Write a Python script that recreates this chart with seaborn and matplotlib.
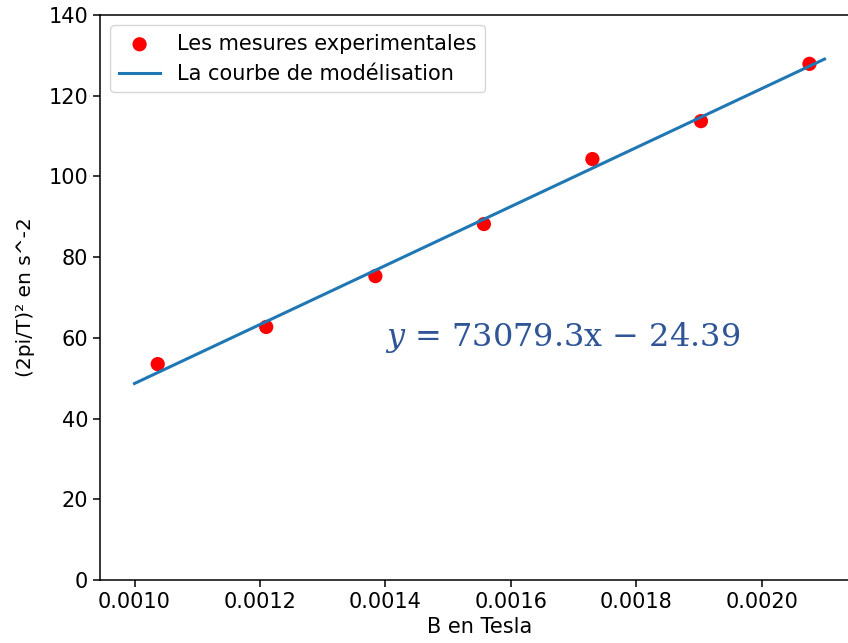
import matplotlib
matplotlib.use("Agg")
import matplotlib.pyplot as plt
import seaborn as sns
import pandas as pd

# Data
B_tesla = [0.001037, 0.001210, 0.001384, 0.001557, 0.001730, 0.001903, 0.002076]
omega2 = [53.5, 62.7, 75.3, 88.2, 104.3, 113.7, 127.9]
line_x = [0.0010, 0.0021]
line_y = [48.69, 129.08]
equation = "$y$ = 73079.3x − 24.39"
x_label = "B en Tesla"
y_label = "(2pi/T)² en s^-2"
legend_points = "Les mesures experimentales"
legend_line = "La courbe de modélisation"

plt.rcParams['font.family'] = ['DejaVu Sans']
plt.rcParams['mathtext.fontset'] = 'dejavuserif'

fs = 15
fig = plt.figure(figsize=(8.48, 6.43), dpi=100)
ax = fig.add_axes([100/848, 1 - 580/643, 759/848, 565/643])

df_pts = pd.DataFrame({"B": B_tesla, "w": omega2})
df_line = pd.DataFrame({"B": line_x, "w": line_y})

sns.scatterplot(data=df_pts, x="B", y="w", ax=ax, color="red", s=105,
                edgecolor="none", label=legend_points, zorder=2)
sns.lineplot(data=df_line, x="B", y="w", ax=ax, color="#1f77b4", linewidth=2.2,
             label=legend_line, zorder=3)

ax.set_ylim(0, 140)
ax.set_xlim(0.000945, 0.002155)
ax.set_xticks([0.0010, 0.0012, 0.0014, 0.0016, 0.0018, 0.0020])
ax.set_xticklabels(["0.0010", "0.0012", "0.0014", "0.0016", "0.0018", "0.0020"])
ax.set_yticks([0, 20, 40, 60, 80, 100, 120, 140])
ax.tick_params(labelsize=fs, length=5, width=1.1)
for s in ax.spines.values():
    s.set_linewidth(1.1)
ax.set_xlabel(x_label, fontsize=fs, labelpad=4)
ax.set_ylabel(y_label, fontsize=14.5, labelpad=10)

leg = ax.legend(loc="upper left", fontsize=fs, markerscale=1.0)

ax.text(0.0014, 60, equation, fontsize=23, color="#2F5597", va="center", ha="left",
        family="DejaVu Serif")

fig.savefig("out.png", dpi=100)
